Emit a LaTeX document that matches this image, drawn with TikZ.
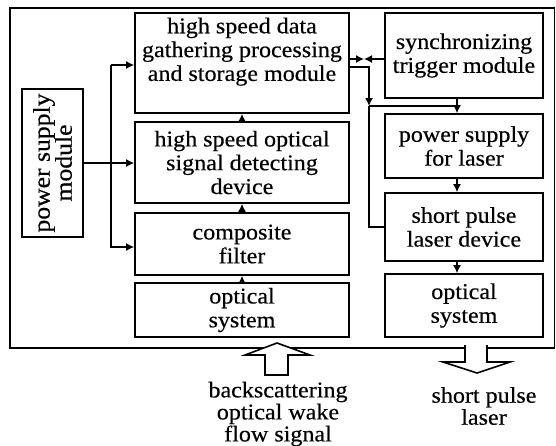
\documentclass[tikz,border=0pt]{standalone}
\usepackage{fontspec}
\setmainfont{Liberation Serif}[FakeStretch=1.07, FakeBold=0.4]
\usepackage{tikz}
\usetikzlibrary{arrows.meta}

\begin{document}
\begin{tikzpicture}[
    x=1pt, y=-1pt,
    bloque/.style={
        rectangle,
        draw,
        line width=1.7pt,
        inner sep=0pt,
        align=center,
        font=\fontsize{22.5}{23.8}\selectfont,
    },
    rel/.style={-{Latex[length=8pt, width=8pt]}, line width=1.3pt},
    linea/.style={line width=1.3pt},
    hueca/.style={draw, line width=1.6pt, line join=miter},
    rotulo/.style={align=center, font=\fontsize{22.5}{22}\selectfont},
]
\useasboundingbox (0,0) rectangle (556,445);
\draw[line width=1.2pt] (10,8) rectangle (554.5,348);

% left column
\node[bloque, minimum width=214, minimum height=100] (datos)    at (242, 63)   {high speed data\\gathering processing\\and storage module\\[-3.5pt]\strut};
\node[bloque, minimum width=214, minimum height=81]  (deteccion) at (242, 162.5) {high speed optical\\signal detecting\\device};
\node[bloque, minimum width=214, minimum height=62]  (filtro)    at (242, 244)  {composite\\filter};
\node[bloque, minimum width=214, minimum height=54]  (optica1)   at (242, 310)  {optical\\system};
\node[bloque, minimum width=148, minimum height=61, rotate=90,
      font=\fontsize{24}{22}\selectfont] (fuente) at (52.5, 163) {power supply\\module};

% right column
\node[bloque, minimum width=158, minimum height=85] (sincro)   at (464, 55.5)  {synchronizing\\trigger module};
\node[bloque, minimum width=158, minimum height=64] (potencia) at (464, 146)   {power supply\\for laser};
\node[bloque, minimum width=158, minimum height=68] (laser)    at (464, 227)   {short pulse\\laser device};
\node[bloque, minimum width=158, minimum height=63] (optica2)  at (464, 305.5) {optical\\system};

\coordinate (bt)  at (111, 65);
\coordinate (bb)  at (111, 247);
\coordinate (mid) at (364, 59);
\coordinate (jn)  at (369, 106);
\coordinate (tk)  at (457, 106);

% power supply
\draw[rel] (fuente) -- (fuente -| deteccion.west);
\draw[rel] (bt) -- (bt -| datos.west);
\draw[rel] (bt) -- (bb) -- (bb -| filtro.west);

% receiving chain
\draw[rel] (optica1) -- (filtro);
\draw[rel] (filtro) -- (deteccion);
\draw[rel] (deteccion) -- (datos);

% trigger and laser chain
\draw[rel] ([yshift=4pt]datos.east) -- (mid);
\draw[rel] (mid -| sincro.west) -- (mid);
\draw[rel] ([yshift=-4pt]datos.east) -| (jn);
\draw[linea] (jn) |- (laser.west);
\draw[linea] (jn) -- (tk);
\draw[rel] (tk |- sincro.south) -- (tk |- potencia.north);
\draw[rel] (tk |- potencia.south) -- (tk |- laser.north);
\draw[rel] (tk |- laser.south) -- (tk |- optica2.north);

% hollow arrows
\fill[white] (265,375) -- (265,355) -- (245,355) -- (277,343) -- (310,355) -- (288,355) -- (288,375) -- cycle;
\draw[hueca] (265,375) -- (265,355) -- (245,355) -- (277,343) -- (310,355) -- (288,355) -- (288,375) -- cycle;
\fill[white] (465,345) -- (465,362) -- (443,362) -- (477,373) -- (510,362) -- (487,362) -- (487,345) -- cycle;
\draw[hueca] (465,345) -- (465,362) -- (443,362) -- (477,373) -- (510,362) -- (487,362) -- (487,345);

\node[rotulo] (retro) at (278, 414) {backscattering\\optical wake\\flow signal};
\node[rotulo] (pulso) at (484, 406) {short pulse\\laser};

\end{tikzpicture}
\end{document}
